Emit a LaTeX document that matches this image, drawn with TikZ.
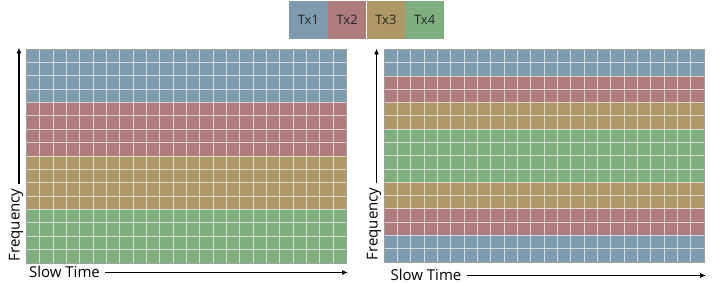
\documentclass[tikz,border=0pt]{standalone}
\usepackage{fontspec}
\setmainfont{Open Sans}
\usetikzlibrary{arrows.meta}
\definecolor{txblue}{RGB}{127,155,174}
\definecolor{txred}{RGB}{174,124,124}
\definecolor{txgold}{RGB}{174,152,101}
\definecolor{txgreen}{RGB}{127,174,127}
\tikzset{
  legbox/.style={draw=none,minimum width=38.75pt,minimum height=38pt,inner sep=0pt,font=\fontsize{13}{15}\selectfont,text=black!85},
  gridline/.style={white,opacity=0.65,line width=0.8pt},
  gridborder/.style={draw=gray!75,line width=0.9pt},
  axis/.style={line width=1.1pt,-{Latex[length=6pt,width=5pt]}},
  axlabel/.style={font=\fontsize{15}{17}\selectfont,inner sep=0pt}
}
\begin{document}
\begin{tikzpicture}[x=1pt,y=-1pt]
\useasboundingbox (0,0) rectangle (718,283);
% legend
\node[legbox,fill=txblue]  (tx1) at (308.4,20) {Tx1};
\node[legbox,fill=txred]   (tx2) at (347.1,20) {Tx2};
\node[legbox,fill=txgold]  (tx3) at (385.9,20) {Tx3};
\node[legbox,fill=txgreen] (tx4) at (424.6,20) {Tx4};
% left grid
\def\lxa{26.5}\def\lxb{346.5}\def\lya{49}\def\lyb{263}
\def\lrh{13.375}
\foreach \c [count=\i from 0] in {txblue,txred,txgold,txgreen}{
  \fill[\c] (\lxa,{\lya+4*\i*\lrh}) rectangle (\lxb,{\lya+4*(\i+1)*\lrh});
}
\foreach \k in {1,...,15}{\draw[gridline] (\lxa,{\lya+\k*\lrh}) -- (\lxb,{\lya+\k*\lrh});}
\foreach \k in {1,...,23}{\draw[gridline] ({\lxa+\k*320/24},\lya) -- ({\lxa+\k*320/24},\lyb);}
\draw[gridborder] (\lxa,\lya) rectangle (\lxb,\lyb);
% right grid
\def\rxa{384}\def\rxb{704}\def\rya{49.5}\def\ryb{262}
\def\rrh{13.28}
\foreach \c/\s/\n in {txblue/0/2,txred/2/2,txgold/4/2,txgreen/6/4,txgold/10/2,txred/12/2,txblue/14/2}{
  \fill[\c] (\rxa,{\rya+\s*\rrh}) rectangle (\rxb,{\rya+(\s+\n)*\rrh});
}
\foreach \k in {1,...,15}{\draw[gridline] (\rxa,{\rya+\k*\rrh}) -- (\rxb,{\rya+\k*\rrh});}
\foreach \k in {1,...,23}{\draw[gridline] ({\rxa+\k*320/24},\rya) -- ({\rxa+\k*320/24},\ryb);}
\draw[gridborder] (\rxa,\rya) rectangle (\rxb,\ryb);
% left axes
\node[axlabel,rotate=90] (lfreq) at (16,225) {Frequency};
\node[axlabel] (lslow) at (64.5,272) {Slow Time};
\coordinate (lytop) at (19,47.5);
\coordinate (lxend) at (348,272.5);
\draw[axis] (lfreq.east -| lytop) ++(0,-4) -- (lytop);
\draw[axis] (lslow.east) ++(5,0.5) -- (lxend);
% right axes
\node[axlabel,rotate=90] (rfreq) at (374,224) {Frequency};
\node[axlabel] (rslow) at (426,275) {Slow Time};
\coordinate (rytop) at (376.5,48.5);
\coordinate (rxend) at (706,275.5);
\draw[axis] (rfreq.east -| rytop) ++(0,-4) -- (rytop);
\draw[axis] (rslow.east) ++(5,0.5) -- (rxend);
\end{tikzpicture}
\end{document}
